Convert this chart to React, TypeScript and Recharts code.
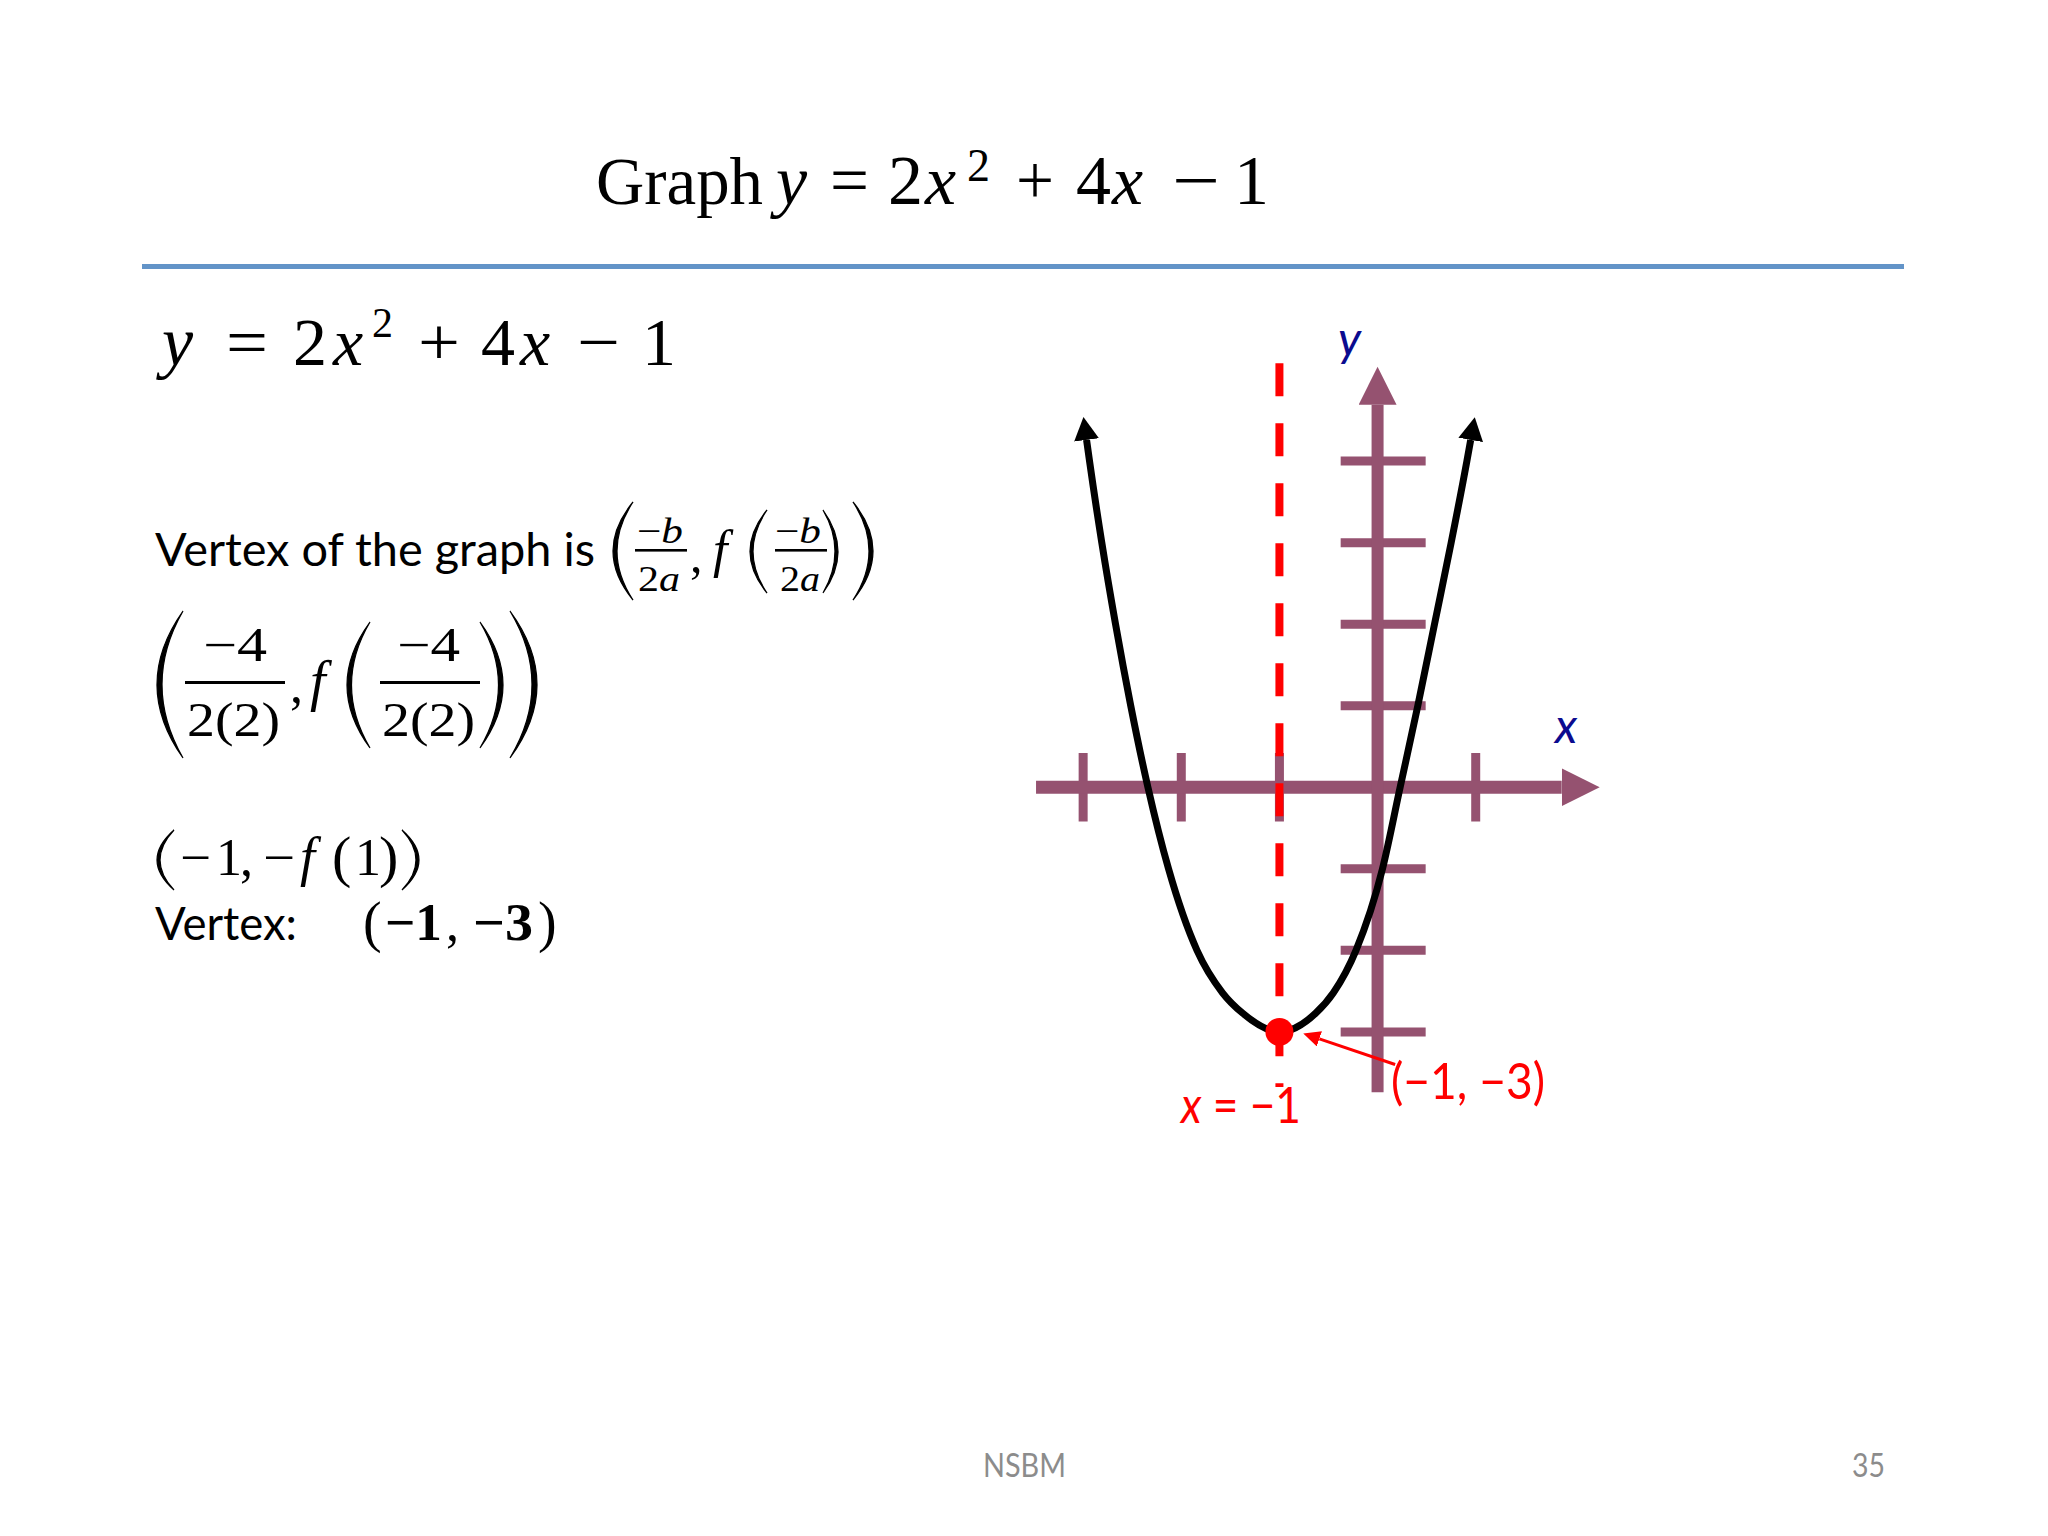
import React from "react";
import { ComposedChart, Line, Scatter, XAxis, YAxis } from "recharts";

// parabola y = 2x^2 + 4x - 1 (ends = arrow bases)
const curveX = [-2.965, -2.935, -2.81, -2.67, -2.515, -2.34, -2.13, -1.84, -1.58, -1.375, -1, -0.63, -0.45, -0.22, 0.05, 0.23, 0.41, 0.58, 0.75, 0.91, 0.949];
const curveY = [4.26, 4, 3, 2, 1, 0, -1, -2, -2.52, -2.77, -3, -2.77, -2.52, -2, -1, 0, 1, 2, 3, 4, 4.26];

// tick marks on the hand-drawn axes
const xTicks = [-3, -2, -1, 1];
const yTicks = [4, 3, 2, 1, -1, -2, -3];

// axis extents (in graph units)
const xAxisSpan = [-3.48, 1.876];
const yAxisSpan = [-3.74, 4.69];

// vertex, axis of symmetry x = -1, and the pointer to the vertex label
const vertex = [{ x: -1, y: -3 }];
const symmetrySpan = [5.2, -3.675];
const pointer = [
  { x: 0.179, y: -3.4 },
  { x: -0.593, y: -3.085 },
];

const PURPLE = "#955270";
const RED = "#FF0000";
const NAVY = "#0B0B8F";
const SERIF = "'Liberation Serif', 'Times New Roman', serif";
const SANS = "Lato, 'Open Sans', sans-serif";

const X_TICK_HALF = 0.42;
const Y_TICK_LEFT = -0.376;
const Y_TICK_RIGHT = 0.49;

const curveData = curveX.map((x, i) => ({ x, y: curveY[i] }));
const tickData = [
  ...xTicks.flatMap((t) => [
    { x: t, y: X_TICK_HALF },
    { x: t, y: -X_TICK_HALF },
    { x: t, y: null },
  ]),
  ...yTicks.flatMap((t) => [
    { x: Y_TICK_LEFT, y: t },
    { x: Y_TICK_RIGHT, y: t },
    { x: Y_TICK_RIGHT, y: null },
  ]),
];
const xAxisData = xAxisSpan.map((x) => ({ x, y: 0 }));
const yAxisData = yAxisSpan.map((y) => ({ x: 0, y }));
const symmetryData = symmetrySpan.map((y) => ({ x: vertex[0].x, y }));

type TP = {
  x: number;
  y: number;
  size: number;
  it?: boolean;
  b?: boolean;
  len?: number;
  fam?: string;
  fill?: string;
  children: React.ReactNode;
};

function T({ x, y, size, it, b, len, fam = SERIF, fill = "#000", children }: TP) {
  return (
    <text
      x={x}
      y={y}
      fontFamily={fam}
      fontSize={size}
      fontStyle={it ? "italic" : "normal"}
      fontWeight={b ? 700 : 400}
      fill={fill}
      textLength={len}
      lengthAdjust={len ? "spacingAndGlyphs" : undefined}
    >
      {children}
    </text>
  );
}

// stretched parenthesis as a crescent
function Paren({ x, w, top, bottom, right, t = 4 }: { x: number; w: number; top: number; bottom: number; right?: boolean; t?: number }) {
  const mid = (top + bottom) / 2;
  const d = right
    ? `M${x},${top} Q${x + 2 * w},${mid} ${x},${bottom} Q${x + 2 * w - 2 * t},${mid} ${x},${top} Z`
    : `M${x + w},${top} Q${x - w},${mid} ${x + w},${bottom} Q${x - w + 2 * t},${mid} ${x + w},${top} Z`;
  return <path d={d} fill="#000" stroke="#000" strokeWidth={1.2} />;
}

function Bar({ x, w, y, h = 2.6 }: { x: number; w: number; y: number; h?: number }) {
  return <rect x={x} y={y} width={w} height={h} fill="#000" />;
}

function SlideText() {
  return (
    <svg width={2048} height={1536} style={{ position: "absolute", left: 0, top: 0 }}>
      {/* title */}
      <T x={596} y={204} size={68} len={167}>Graph</T>
      <T x={776} y={204} size={70} it>y</T>
      <T x={830} y={204} size={70} len={39}>=</T>
      <T x={888} y={204} size={70}>2</T>
      <T x={925} y={204} size={70} it>x</T>
      <T x={967} y={181} size={46}>2</T>
      <T x={1016} y={204} size={70} len={38}>+</T>
      <T x={1076} y={204} size={70}>4</T>
      <T x={1112} y={204} size={70} it>x</T>
      <T x={1172} y={204} size={70} len={48}>−</T>
      <T x={1234} y={204} size={70}>1</T>
      <rect x={142} y={264} width={1762} height={5} fill="#6394C8" />

      {/* equation */}
      <T x={162} y={365} size={70} it>y</T>
      <T x={226} y={365} size={68} len={42}>=</T>
      <T x={293} y={365} size={68}>2</T>
      <T x={333} y={365} size={68} it>x</T>
      <T x={372} y={337} size={42}>2</T>
      <T x={418} y={365} size={68} len={42}>+</T>
      <T x={481} y={365} size={68}>4</T>
      <T x={520} y={365} size={68} it>x</T>
      <T x={577} y={365} size={68} len={43}>−</T>
      <T x={642} y={365} size={68}>1</T>

      {/* vertex formula */}
      <T x={155} y={566} size={47} fam={SANS} len={440}>Vertex of the graph is</T>
      <Paren x={613} w={20} top={502} bottom={600} />
      <T x={637} y={543} size={35} len={46}>−<tspan fontStyle="italic">b</tspan></T>
      <Bar x={635} w={52} y={549} />
      <T x={638} y={591} size={35} len={42}>2<tspan fontStyle="italic">a</tspan></T>
      <T x={690} y={572} size={50}>,</T>
      <T x={713} y={567} size={52} it>f</T>
      <Paren x={750} w={17} top={510} bottom={593} t={3} />
      <T x={775} y={543} size={35} len={46}>−<tspan fontStyle="italic">b</tspan></T>
      <Bar x={775} w={52} y={549} />
      <T x={780} y={591} size={35} len={40}>2<tspan fontStyle="italic">a</tspan></T>
      <Paren x={823} w={15} top={510} bottom={593} right t={3} />
      <Paren x={853} w={20} top={502} bottom={600} right />

      {/* substituted */}
      <Paren x={157} w={26} top={611} bottom={758} t={5} />
      <T x={203} y={661} size={48} len={64}>−4</T>
      <Bar x={185} w={100} y={681} h={3} />
      <T x={187} y={736} size={48} len={93}>2(2)</T>
      <T x={290} y={702} size={52}>,</T>
      <T x={310} y={700} size={56} it>f</T>
      <Paren x={347} w={23} top={622} bottom={748} t={4.5} />
      <T x={397} y={661} size={48} len={63}>−4</T>
      <Bar x={380} w={100} y={681} h={3} />
      <T x={382} y={736} size={48} len={93}>2(2)</T>
      <Paren x={480} w={23} top={622} bottom={748} right t={4.5} />
      <Paren x={510} w={27} top={611} bottom={758} right t={5} />

      {/* (-1, -f(1)) */}
      <Paren x={157} w={17} top={830} bottom={890} t={3} />
      <T x={180} y={875} size={52} len={31}>−</T>
      <T x={216} y={875} size={52}>1</T>
      <T x={240} y={875} size={52}>,</T>
      <T x={263} y={875} size={52} len={32}>−</T>
      <T x={300} y={875} size={54} it>f</T>
      <T x={332} y={876} size={58}>(</T>
      <T x={355} y={875} size={52}>1</T>
      <T x={379} y={876} size={58}>)</T>
      <Paren x={402} w={17} top={830} bottom={890} right t={3} />

      {/* Vertex: (-1, -3) */}
      <T x={155} y={940} size={47} fam={SANS} len={142}>Vertex:</T>
      <T x={363} y={941} size={56}>(</T>
      <T x={385} y={940} size={52} b len={57}>−1</T>
      <T x={446} y={940} size={52}>,</T>
      <T x={473} y={940} size={52} b len={60}>−3</T>
      <T x={538} y={941} size={56}>)</T>

      {/* graph labels */}
      <T x={1338} y={356} size={48} fam={SANS} it fill={NAVY}>y</T>
      <T x={1555} y={743} size={48} fam={SANS} it fill={NAVY}>x</T>
      <T x={1181} y={1123} size={50} fam={SANS} fill={RED} len={120}>
        <tspan fontStyle="italic">x</tspan> = −1
      </T>
      <T x={1391} y={1099} size={50} fam={SANS} fill={RED} len={154}>(−1, −3)</T>

      {/* footer */}
      <T x={983} y={1477} size={33} fam={SANS} fill="#8C8C8C" len={83}>NSBM</T>
      <T x={1852} y={1477} size={33} fam={SANS} fill="#8C8C8C" len={33}>35</T>
    </svg>
  );
}

function Markers() {
  return (
    <svg width={0} height={0} style={{ position: "absolute", left: 0, top: 0 }}>
      <defs>
        <marker id="arrPurple" markerUnits="userSpaceOnUse" markerWidth={40} markerHeight={40} refX={0} refY={19} orient="auto">
          <path d="M0,0 L38,19 L0,38 Z" fill={PURPLE} />
        </marker>
        <marker id="arrBlack" markerUnits="userSpaceOnUse" markerWidth={26} markerHeight={26} refX={0} refY={12.5} orient="auto-start-reverse">
          <path d="M0,0 L23,12.5 L0,25 Z" fill="#000" />
        </marker>
        <marker id="arrRed" markerUnits="userSpaceOnUse" markerWidth={20} markerHeight={20} refX={0} refY={8} orient="auto">
          <path d="M0,0 L17,8 L0,16 Z" fill={RED} />
        </marker>
      </defs>
    </svg>
  );
}

export default function App() {
  return (
    <div style={{ position: "absolute", left: 0, top: 0, width: 2048, height: 1536, background: "#fff", overflow: "hidden" }}>
      <Markers />
      <SlideText />
      <div style={{ position: "absolute", left: 985, top: 298 }}>
        <ComposedChart width={687} height={897} margin={{ top: 0, right: 0, bottom: 0, left: 0 }}>
          <XAxis type="number" dataKey="x" domain={[-4, 3]} hide allowDataOverflow />
          <YAxis type="number" dataKey="y" domain={[-5, 6]} hide allowDataOverflow />
          <Line data={tickData} dataKey="y" type="linear" stroke={PURPLE} strokeWidth={9} dot={false} activeDot={false} isAnimationActive={false} />
          <Line data={xAxisData} dataKey="y" type="linear" stroke={PURPLE} strokeWidth={13} dot={false} activeDot={false} markerEnd="url(#arrPurple)" isAnimationActive={false} />
          <Line data={yAxisData} dataKey="y" type="linear" stroke={PURPLE} strokeWidth={12} dot={false} activeDot={false} markerEnd="url(#arrPurple)" isAnimationActive={false} />
          <Line data={symmetryData} dataKey="y" type="linear" stroke={RED} strokeWidth={8} strokeDasharray="33 27" dot={false} activeDot={false} isAnimationActive={false} />
          <Line data={curveData} dataKey="y" type="monotone" stroke="#000" strokeWidth={7} dot={false} activeDot={false} markerStart="url(#arrBlack)" markerEnd="url(#arrBlack)" isAnimationActive={false} />
          <Line data={pointer} dataKey="y" type="linear" stroke={RED} strokeWidth={3} dot={false} activeDot={false} markerEnd="url(#arrRed)" isAnimationActive={false} />
          <Scatter data={vertex} dataKey="y" fill={RED} isAnimationActive={false} shape={(p: any) => <circle cx={p.cx} cy={p.cy} r={14} fill={RED} />} />
        </ComposedChart>
      </div>
    </div>
  );
}
